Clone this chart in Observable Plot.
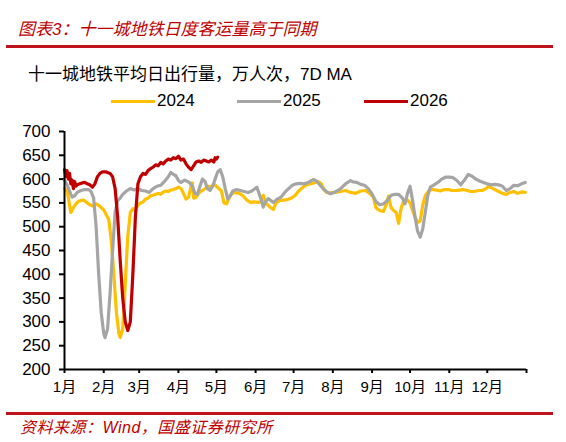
<!DOCTYPE html>
<html>
<head>
<meta charset="utf-8">
<script src="https://cdn.jsdelivr.net/npm/d3@7"></script>
<script src="https://cdn.jsdelivr.net/npm/@observablehq/plot@0.6"></script>
<style>
  html, body { margin: 0; padding: 0; background: #fff; }
  #page { position: relative; width: 566px; height: 442px; overflow: hidden; background: #fff;
          font-family: "Liberation Sans", "Noto Sans CJK SC", sans-serif; }
  .abs { position: absolute; white-space: nowrap; }
  .title { left: 18px; top: 15px; font-size: 17px; color: #C00000; font-style: italic; }
  .rule { left: 6px; width: 547px; height: 3px; background: #C0141C; }
  .subtitle { left: 28px; top: 60px; font-size: 17px; color: #000; }
  .legend-line { height: 3px; }
  .legend-text { font-size: 17px; color: #000; }
  .source { left: 20px; top: 414px; font-size: 16px; letter-spacing: 0.5px; color: #C00000; font-style: italic; }
  #chart { position: absolute; left: 0; top: 110px; }
</style>
</head>
<body>
<div id="page">
  <div class="abs title">图表3：十一城地铁日度客运量高于同期</div>
  <div class="abs rule" style="top:45px"></div>
  <div class="abs subtitle">十一城地铁平均日出行量，万人次，7D MA</div>
  <div id="legend"></div>
  <div id="chart"></div>
  <div class="abs rule" style="top:412px"></div>
  <div class="abs source">资料来源：Wind，国盛证券研究所</div>
</div>
<script>
// Series: [day of year (Jan 1 = 0), 7-day average of daily ridership, 10k trips]
const s2024 = [
  [0,580],[2,575],[3,562],[5,530],[7,540],[9,548],[11,553],[13,555],[15,556],[17,552],[19,548],
  [21,545],[23,543],[25,548],[27,545],[29,540],[31,535],[33,525],[35,515],[37,470],[39,400],
  [41,320],[43,275],[44,267],[46,285],[48,380],[50,480],[52,530],[54,538],[56,535],[58,545],
  [60,550],[62,552],[64,558],[66,560],[68,565],[70,566],[72,568],[74,570],[76,568],[78,573],
  [80,575],[82,574],[84,577],[86,578],[88,580],[90,583],[92,580],[94,570],[96,558],[98,562],
  [100,585],[101,592],[102,560],[104,562],[106,570],[108,575],[110,578],[112,582],[114,585],
  [116,583],[118,590],[120,585],[122,580],[124,575],[126,550],[128,548],[130,560],[132,570],
  [135,572],[138,570],[141,565],[144,556],[147,551],[150,552],[153,551],[156,553],[157,566],
  [159,550],[162,542],[165,536],[167,550],[170,555],[173,556],[176,557],[179,560],[182,565],
  [185,575],[188,582],[191,588],[194,590],[197,592],[200,595],[203,590],[205,578],[207,572],
  [210,571],[214,572],[218,574],[222,576],[226,572],[230,570],[234,575],[238,576],[241,570],
  [244,562],[246,540],[249,534],[252,532],[254,545],[256,564],[258,540],[260,534],[262,530],
  [264,507],[266,540],[268,553],[271,556],[273,550],[275,534],[277,520],[279,509],[281,512],
  [283,545],[285,565],[288,576],[291,578],[294,577],[297,575],[300,578],[303,578],[306,576],
  [309,576],[312,577],[315,578],[318,576],[321,574],[324,574],[327,576],[330,576],[333,580],
  [335,585],[337,582],[340,578],[343,574],[346,570],[349,568],[352,572],[355,574],[358,570],
  [361,573],[364,572]
];
const s2025 = [
  [0,598],[2,588],[4,575],[6,562],[8,565],[10,572],[13,576],[16,578],[19,578],[21,574],
  [23,560],[25,500],[27,400],[29,320],[31,275],[32,267],[34,285],[36,360],[38,450],[40,530],
  [42,555],[44,560],[46,568],[49,575],[52,580],[55,577],[58,580],[61,576],[64,575],[67,572],
  [70,580],[73,585],[76,587],[79,595],[82,605],[84,614],[86,610],[88,607],[90,597],[92,593],
  [95,598],[97,595],[99,592],[101,585],[103,570],[105,568],[107,585],[109,600],[111,595],
  [113,580],[115,576],[117,585],[119,600],[121,615],[123,620],[125,605],[127,580],[129,558],
  [131,565],[133,575],[136,578],[139,576],[142,574],[145,572],[148,575],[152,583],[155,560],
  [157,541],[159,553],[161,559],[163,555],[165,551],[168,558],[171,562],[174,572],[177,580],
  [180,587],[183,590],[186,591],[189,590],[192,592],[195,597],[197,599],[199,596],[202,587],
  [205,578],[208,572],[210,569],[213,572],[216,576],[219,582],[222,590],[226,597],[228,594],
  [231,593],[234,589],[237,587],[240,580],[243,569],[246,553],[249,546],[252,548],[255,555],
  [258,566],[261,568],[264,568],[267,560],[269,548],[271,570],[273,585],[275,555],[277,520],
  [279,490],[281,478],[283,495],[285,530],[287,565],[289,583],[292,588],[295,593],[298,600],
  [301,604],[304,604],[307,603],[310,597],[313,588],[316,598],[319,610],[322,606],[325,600],
  [328,596],[331,593],[334,590],[337,588],[340,589],[343,588],[346,585],[349,576],[352,580],
  [355,587],[358,586],[361,590],[364,593]
];
const s2026 = [
  [0,620],[1,605],[2,618],[3,600],[4,612],[5,590],[6,598],[7,580],[8,595],[9,585],[10,588],
  [12,590],[14,592],[16,593],[18,590],[20,588],[22,583],[24,590],[26,605],[28,612],[30,615],
  [33,615],[36,612],[38,605],[40,580],[42,520],[44,430],[46,350],[48,300],[50,282],[52,300],
  [54,400],[56,520],[58,590],[60,605],[62,612],[64,610],[66,618],[68,622],[70,625],[72,630],
  [74,628],[76,635],[78,632],[80,638],[82,642],[84,640],[86,645],[88,643],[90,648],[92,640],
  [94,642],[96,632],[98,625],[100,620],[102,628],[104,636],[106,638],[108,635],[110,640],
  [112,638],[114,636],[116,640],[118,636],[119,645],[120,642],[121,646]
];

const years = ["2024", "2025", "2026"];
const colors = ["#FFC000", "#A5A5A5", "#C00000"];
const monthStarts = [0, 31, 59, 90, 120, 151, 181, 212, 243, 273, 304, 334, 365];
const monthLabels = ["1月","2月","3月","4月","5月","6月","7月","8月","9月","10月","11月","12月",""];
const yTicks = [200, 250, 300, 350, 400, 450, 500, 550, 600, 650, 700];

const rows = [s2024, s2025, s2026].flatMap((s, k) =>
  s.map(([day, value]) => ({year: years[k], day, value})));
const labelOf = new Map(monthStarts.map((d, i) => [d, monthLabels[i]]));

// Legend above the plot
const legend = document.getElementById("legend");
const legendX = [111, 237, 364];
years.forEach((y, i) => {
  const line = document.createElement("div");
  line.className = "abs legend-line";
  Object.assign(line.style, {left: legendX[i] + "px", top: "100px", width: "44px", background: colors[i]});
  const txt = document.createElement("div");
  txt.className = "abs legend-text";
  Object.assign(txt.style, {left: (legendX[i] + 46) + "px", top: "91px"});
  txt.textContent = y;
  legend.append(line, txt);
});

const chart = Plot.plot({
  width: 566,
  height: 290,
  marginLeft: 64,
  marginRight: 40,
  marginTop: 21,
  marginBottom: 31,
  style: {fontFamily: '"Liberation Sans", "Noto Sans CJK SC", sans-serif', color: "#000", background: "transparent", overflow: "visible"},
  x: {domain: [0, 365]},
  y: {domain: [200, 700]},
  color: {domain: years, range: colors},
  marks: [
    Plot.axisY({ticks: yTicks, tickSize: 5, tickPadding: 9, strokeWidth: 2, fontSize: 17, label: null, tickFormat: d => String(d)}),
    Plot.axisX({ticks: monthStarts, tickSize: 4, tickPadding: 8, strokeWidth: 2, fontSize: 15, label: null, tickFormat: d => labelOf.get(d)}),
    Plot.line(rows, {x: "day", y: "value", z: "year", stroke: "year", strokeWidth: 3.2, strokeLinejoin: "round", curve: "linear"}),
    Plot.ruleX([0], {stroke: "#000", strokeWidth: 2}),
    Plot.ruleY([200], {stroke: "#000", strokeWidth: 2})
  ]
});
document.getElementById("chart").append(chart);
</script>
</body>
</html>
